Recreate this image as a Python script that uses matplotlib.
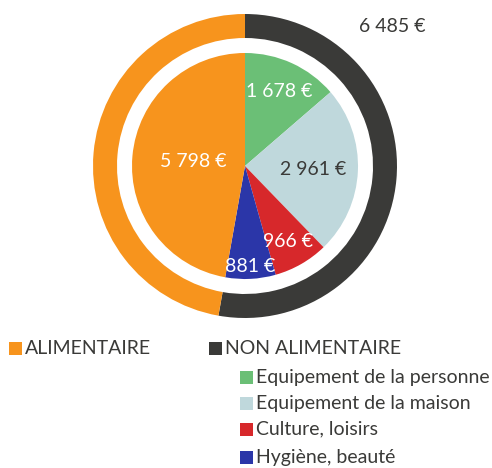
import numpy as np
import matplotlib
matplotlib.use('Agg')
import matplotlib.pyplot as plt
from matplotlib.patches import Rectangle

plt.rcParams['font.family'] = ['Lato', 'DejaVu Sans']

# outer ring: food vs non food
outer_labels = ['NON ALIMENTAIRE', 'ALIMENTAIRE']
outer_values = [6485, 5798]
outer_colors = ['#3a3a38', '#f7941d']

# inner pie: non food detail, then food
inner_labels = ['Equipement de la personne', 'Equipement de la maison',
                'Culture, loisirs', 'Hygiène, beauté', 'ALIMENTAIRE']
inner_values = [1678, 2961, 966, 881, 5798]
inner_colors = ['#6bbf76', '#bfd8dc', '#d7282b', '#2b36a8', '#f7941d']
inner_text_colors = ['white', '#3a3a38', 'white', 'white', 'white']
inner_label_r = [0.54, 0.45, 0.57, 0.66, 0.34]


def euro(v):
    s = f'{v:,}'.replace(',', ' ')
    return s + ' €'


W, H = 492, 468
fig = plt.figure(figsize=(W / 100, H / 100), dpi=100)
cx, cy, R = 245, 166, 152
ax = fig.add_axes([(cx - R) / W, (H - cy - R) / H, 2 * R / W, 2 * R / H])

ring_w = (152 - 128) / 152
wedges_out, _ = ax.pie(outer_values, colors=outer_colors, startangle=90,
                       counterclock=False, radius=1.0,
                       wedgeprops=dict(width=ring_w, linewidth=0))
r_in = 113 / 152
wedges_in, _ = ax.pie(inner_values, colors=inner_colors, startangle=90,
                      counterclock=False, radius=r_in,
                      wedgeprops=dict(linewidth=0))

for w, v, tc, rr in zip(wedges_in, inner_values, inner_text_colors, inner_label_r):
    mid = np.deg2rad((w.theta1 + w.theta2) / 2)
    ax.text(rr * np.cos(mid), rr * np.sin(mid), euro(v), color=tc,
            fontsize=14, ha='center', va='center')

ax.text(0.97, 0.92, euro(outer_values[0]), color='#3a3a38', fontsize=14,
        ha='center', va='center')

ax.set_xlim(-1, 1)
ax.set_ylim(-1, 1)
ax.set_aspect('equal')
ax.axis('off')

# legend, laid out by hand like the original
txt_col = '#3a3a38'
def legend_entry(x, y, color, label):
    s = 13
    fig.add_artist(Rectangle((x / W, (H - y - s / 2) / H), s / W, s / H,
                             transform=fig.transFigure, color=color, lw=0))
    fig.text((x + s + 3) / W, (H - y) / H, label, color=txt_col,
             fontsize=14, ha='left', va='center')

legend_entry(9, 348, outer_colors[1], outer_labels[1])
legend_entry(209, 348, outer_colors[0], outer_labels[0])
for i in range(4):
    legend_entry(240, [377, 403, 429, 457][i], inner_colors[i], inner_labels[i])

fig.savefig('out.png', dpi=100)
